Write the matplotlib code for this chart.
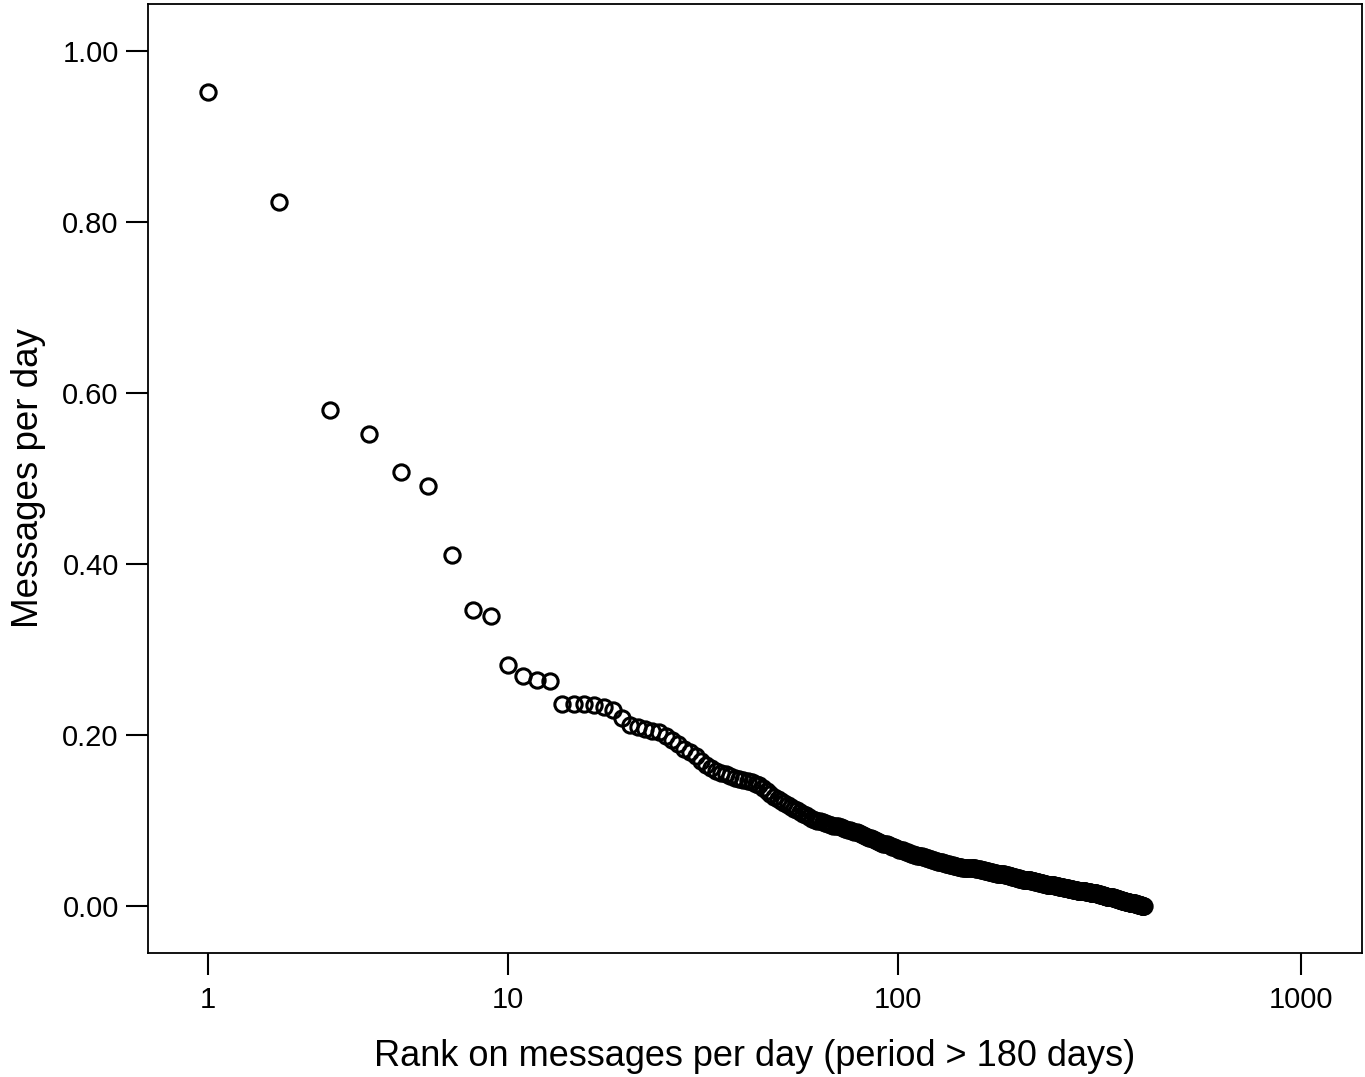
import numpy as np
import matplotlib
matplotlib.use("Agg")
import matplotlib.pyplot as plt
from matplotlib.ticker import FixedLocator, FixedFormatter, NullLocator

plt.rcParams['font.family'] = ['Liberation Sans', 'DejaVu Sans']

# messages per day, sorted by rank
msgs_per_day = [
    0.952, 0.823, 0.580, 0.552, 0.508, 0.491, 0.410, 0.346, 0.339, 0.282,
    0.269, 0.264, 0.263, 0.236, 0.236, 0.236, 0.235, 0.233, 0.229, 0.220,
    0.212, 0.209, 0.207, 0.205, 0.203, 0.199, 0.194, 0.189, 0.184, 0.180,
    0.176, 0.170, 0.165, 0.161, 0.158, 0.156, 0.154, 0.152, 0.150, 0.148,
    0.147, 0.146, 0.145, 0.143, 0.141, 0.138, 0.134, 0.131, 0.128, 0.125,
    0.123, 0.120, 0.118, 0.116, 0.114, 0.112, 0.110, 0.108, 0.106, 0.104,
    0.102, 0.101, 0.100, 0.099, 0.098, 0.097, 0.096, 0.095, 0.094, 0.093,
    0.093, 0.092, 0.091, 0.090, 0.089, 0.089, 0.088, 0.087, 0.086, 0.085,
    0.084, 0.083, 0.082, 0.081, 0.080, 0.079, 0.078, 0.077, 0.076, 0.075,
    0.074, 0.073, 0.073, 0.072, 0.071, 0.070, 0.069, 0.069, 0.068, 0.067,
    0.066, 0.066, 0.065, 0.064, 0.063, 0.063, 0.062, 0.061, 0.061, 0.060,
    0.060, 0.059, 0.059, 0.058, 0.058, 0.057, 0.057, 0.056, 0.056, 0.055,
    0.055, 0.054, 0.054, 0.053, 0.053, 0.052, 0.052, 0.051, 0.051, 0.050,
    0.050, 0.049, 0.049, 0.049, 0.048, 0.048, 0.048, 0.047, 0.047, 0.047,
    0.046, 0.046, 0.046, 0.046, 0.045, 0.045, 0.045, 0.045, 0.045, 0.044,
    0.044, 0.044, 0.044, 0.044, 0.044, 0.044, 0.043, 0.043, 0.043, 0.043,
    0.042, 0.042, 0.042, 0.042, 0.041, 0.041, 0.041, 0.041, 0.040, 0.040,
    0.040, 0.040, 0.039, 0.039, 0.039, 0.039, 0.038, 0.038, 0.038, 0.038,
    0.037, 0.037, 0.037, 0.037, 0.036, 0.036, 0.036, 0.036, 0.035, 0.035,
    0.035, 0.035, 0.034, 0.034, 0.034, 0.034, 0.033, 0.033, 0.033, 0.033,
    0.032, 0.032, 0.032, 0.032, 0.031, 0.031, 0.031, 0.031, 0.031, 0.030,
    0.030, 0.030, 0.030, 0.030, 0.029, 0.029, 0.029, 0.029, 0.029, 0.028,
    0.028, 0.028, 0.028, 0.028, 0.027, 0.027, 0.027, 0.027, 0.027, 0.026,
    0.026, 0.026, 0.026, 0.026, 0.025, 0.025, 0.025, 0.025, 0.025, 0.024,
    0.024, 0.024, 0.024, 0.024, 0.024, 0.023, 0.023, 0.023, 0.023, 0.023,
    0.023, 0.022, 0.022, 0.022, 0.022, 0.022, 0.022, 0.022, 0.021, 0.021,
    0.021, 0.021, 0.021, 0.021, 0.021, 0.020, 0.020, 0.020, 0.020, 0.020,
    0.020, 0.020, 0.019, 0.019, 0.019, 0.019, 0.019, 0.019, 0.019, 0.018,
    0.018, 0.018, 0.018, 0.018, 0.018, 0.018, 0.017, 0.017, 0.017, 0.017,
    0.017, 0.017, 0.017, 0.016, 0.016, 0.016, 0.016, 0.016, 0.016, 0.016,
    0.016, 0.015, 0.015, 0.015, 0.015, 0.015, 0.015, 0.015, 0.015, 0.015,
    0.015, 0.015, 0.014, 0.014, 0.014, 0.014, 0.014, 0.014, 0.013, 0.013,
    0.013, 0.013, 0.013, 0.013, 0.012, 0.012, 0.012, 0.012, 0.012, 0.012,
    0.011, 0.011, 0.011, 0.011, 0.011, 0.011, 0.010, 0.010, 0.010, 0.010,
    0.010, 0.010, 0.009, 0.009, 0.009, 0.009, 0.009, 0.009, 0.008, 0.008,
    0.008, 0.008, 0.008, 0.008, 0.007, 0.007, 0.007, 0.007, 0.007, 0.007,
    0.006, 0.006, 0.006, 0.006, 0.006, 0.006, 0.006, 0.006, 0.005, 0.005,
    0.005, 0.005, 0.005, 0.005, 0.005, 0.005, 0.004, 0.004, 0.004, 0.004,
    0.004, 0.004, 0.003, 0.003, 0.003, 0.003, 0.003, 0.003, 0.002, 0.002,
    0.002, 0.002, 0.002, 0.002, 0.002, 0.001, 0.001, 0.001, 0.001, 0.001,
    0.001, 0.001, 0.001, 0.000, 0.000, 0.000, 0.000, 0.000, 0.000,
]
ranks = np.arange(1, len(msgs_per_day) + 1)

x_ticks = [1, 10, 100, 1000]
x_tick_labels = ["1", "10", "100", "1000"]
y_ticks = [0.0, 0.2, 0.4, 0.6, 0.8, 1.0]
y_tick_labels = ["0.00", "0.20", "0.40", "0.60", "0.80", "1.00"]

fig = plt.figure(figsize=(13.65, 10.77), dpi=100)
ax = fig.add_axes([0.1084, 0.1151, 0.8894, 0.8812])

# SPSS style log axis: log10(rank + 1)
ax.set_xscale("function", functions=(lambda x: np.log10(np.maximum(x, -0.999) + 1),
                                     lambda y: 10 ** y - 1))

ax.plot(ranks, msgs_per_day, linestyle="none", marker="o", ms=11,
        mfc="none", mec="black", mew=2.2)

ax.set_xlim(0.42, 1416.5)
ax.set_ylim(-0.055, 1.055)

ax.xaxis.set_major_locator(FixedLocator(x_ticks))
ax.xaxis.set_major_formatter(FixedFormatter(x_tick_labels))
ax.xaxis.set_minor_locator(NullLocator())
ax.set_yticks(y_ticks)
ax.set_yticklabels(y_tick_labels)

ax.tick_params(axis="both", direction="out", length=16, width=1.5,
               labelsize=21, pad=5, colors="black")
ax.tick_params(axis="x", pad=8)
for s in ax.spines.values():
    s.set_linewidth(1.3)

ax.set_xlabel("Rank on messages per day (period > 180 days)", fontsize=26, labelpad=18)
ax.set_ylabel("Messages per day", fontsize=26.5, labelpad=12)

fig.savefig("out.png", dpi=100)
